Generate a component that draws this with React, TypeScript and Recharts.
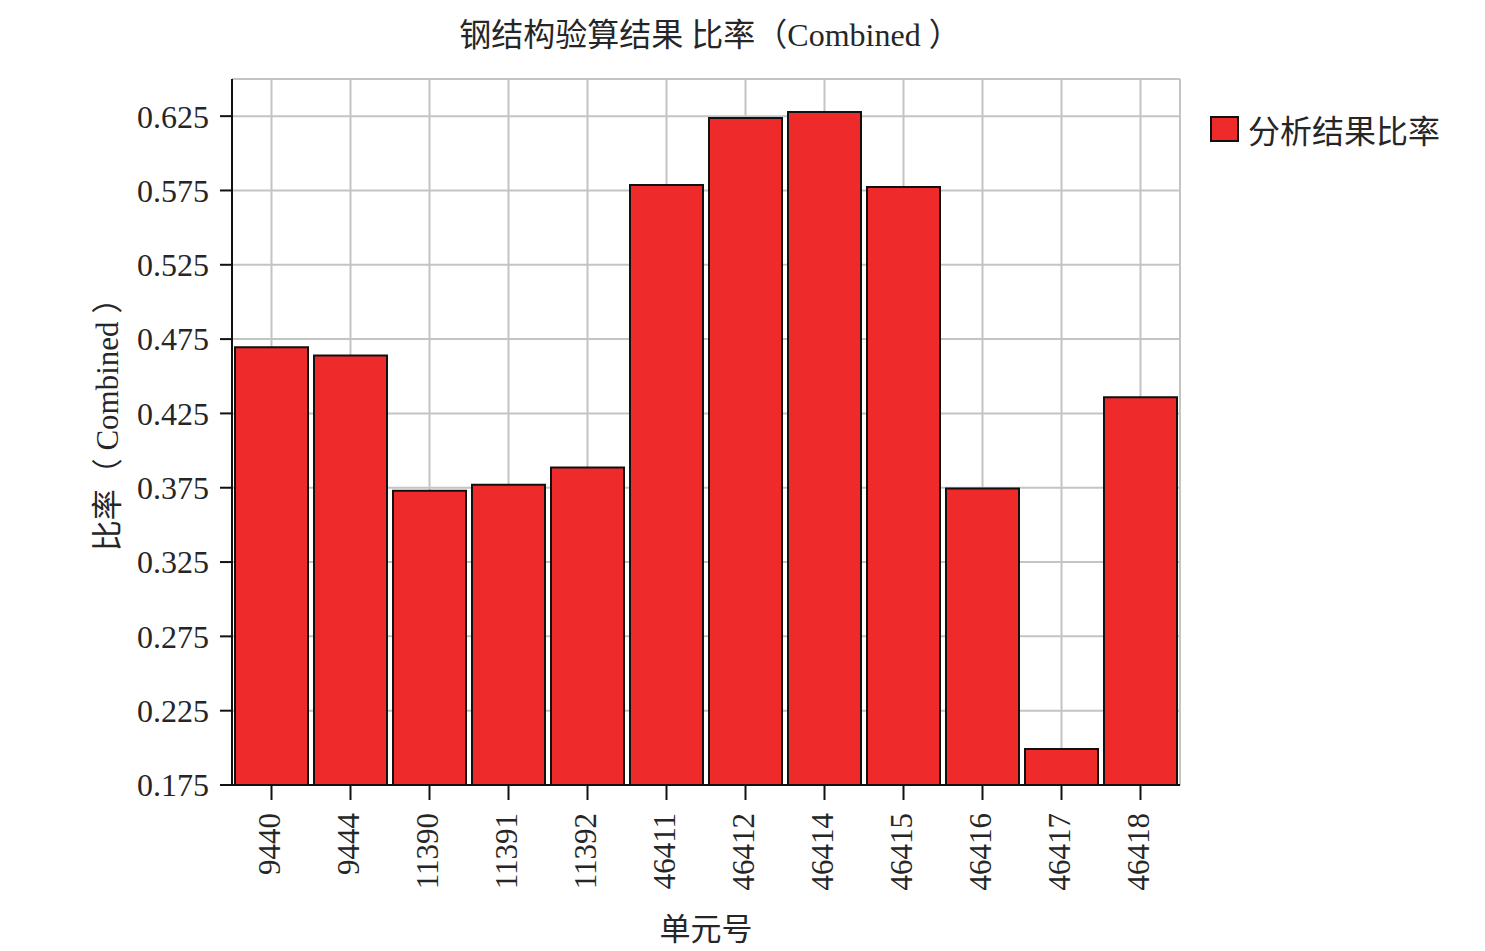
import React from 'react';
import { BarChart, Bar, XAxis, YAxis, CartesianGrid, Legend, Label } from 'recharts';

const elements = ['9440', '9444', '11390', '11391', '11392', '46411', '46412', '46414', '46415', '46416', '46417', '46418'];
const ratios = [0.4695, 0.464, 0.373, 0.377, 0.3886, 0.5786, 0.6238, 0.6278, 0.5773, 0.3745, 0.1993, 0.4358];
const yTicks = [0.175, 0.225, 0.275, 0.325, 0.375, 0.425, 0.475, 0.525, 0.575, 0.625];

const FONT = '"Liberation Serif", "Noto Sans CJK SC", serif';
const TEXT = '#262626';
const RED = '#ee2a2a';

const data = elements.map((el, i) => ({ el, ratio: ratios[i] }));

const XTick = (props: any) => {
  const { x, y, payload } = props;
  return (
    <text
      x={x}
      y={y}
      dy={8}
      transform={`rotate(-90, ${x}, ${y})`}
      textAnchor="end"
      fill={TEXT}
      fontSize={31}
      fontFamily={FONT}
    >
      {payload.value}
    </text>
  );
};

const YLabel = (props: any) => {
  const { viewBox } = props;
  const cx = viewBox.x + 107;
  const cy = viewBox.y + viewBox.height / 2 - 15;
  return (
    <text
      x={cx}
      y={cy}
      transform={`rotate(-90, ${cx}, ${cy})`}
      textAnchor="middle"
      dominantBaseline="central"
      fill={TEXT}
      fontSize={31}
      fontFamily={FONT}
    >
      比率（ Combined ）
    </text>
  );
};

const LegendBox = () => (
  <div style={{ display: 'flex', alignItems: 'center', fontFamily: FONT, fontSize: 32, color: TEXT }}>
    <span
      style={{
        display: 'inline-block',
        width: 25,
        height: 22,
        background: RED,
        border: '2px solid #111',
        marginRight: 9,
      }}
    />
    <span>分析结果比率</span>
  </div>
);

export default function App() {
  return (
    <div style={{ position: 'absolute', left: 0, top: 0, width: 1485, height: 951, background: '#fff' }}>
      <div
        style={{
          position: 'absolute',
          top: 19,
          left: 0,
          width: 1420,
          textAlign: 'center',
          fontFamily: FONT,
          fontSize: 32,
          color: TEXT,
          lineHeight: 1,
        }}
      >
        钢结构验算结果 比率（Combined ）
      </div>
      <BarChart
        width={1485}
        height={951}
        data={data}
        margin={{ top: 79, right: 305, left: 0, bottom: 0 }}
        barCategoryGap={3}
      >
        <CartesianGrid stroke="#c4c4c4" strokeWidth={2} />
        <XAxis
          dataKey="el"
          height={166}
          interval={0}
          tickSize={15}
          tickMargin={13}
          tick={<XTick />}
          axisLine={{ stroke: '#111', strokeWidth: 2 }}
          tickLine={{ stroke: '#111', strokeWidth: 2 }}
        >
          <Label
            value="单元号"
            position="insideBottom"
            offset={11}
            fill={TEXT}
            fontSize={31}
            fontFamily={FONT}
          />
        </XAxis>
        <XAxis
          xAxisId="top"
          orientation="top"
          dataKey="el"
          height={0}
          tick={false}
          tickLine={false}
          axisLine={{ stroke: '#111', strokeWidth: 2 }}
        />
        <YAxis
          width={232}
          domain={[0.175, 0.65]}
          ticks={yTicks}
          interval={0}
          tickSize={12}
          tickMargin={11}
          tickFormatter={(v: number) => v.toFixed(3)}
          tick={{ fill: TEXT, fontSize: 32, fontFamily: FONT }}
          axisLine={{ stroke: '#111', strokeWidth: 2 }}
          tickLine={{ stroke: '#111', strokeWidth: 2 }}
        >
          <Label content={<YLabel />} />
        </YAxis>
        <YAxis
          yAxisId="right"
          orientation="right"
          width={0}
          domain={[0.175, 0.65]}
          tick={false}
          tickLine={false}
          axisLine={{ stroke: '#1a1a2e', strokeWidth: 2 }}
        />
        <Legend
          layout="vertical"
          align="center"
          verticalAlign="middle"
          wrapperStyle={{ left: 1210, top: 106, width: 'auto', height: 'auto' }}
          content={<LegendBox />}
        />
        <Bar dataKey="ratio" fill={RED} stroke="#111" strokeWidth={2} isAnimationActive={false} />
      </BarChart>
    </div>
  );
}
